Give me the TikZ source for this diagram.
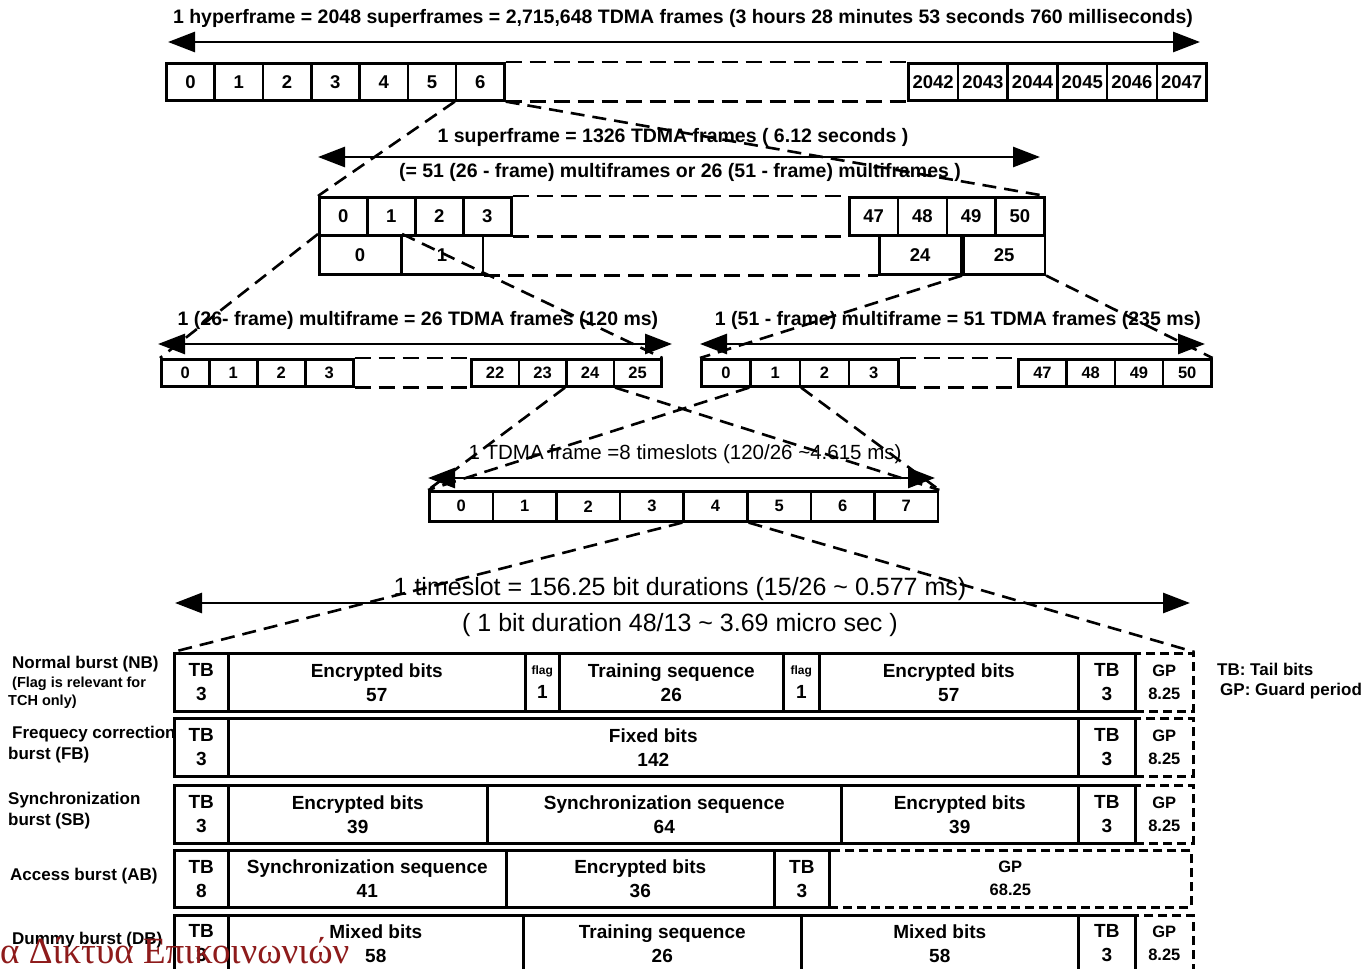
\documentclass[tikz,border=0pt]{standalone}
\usepackage{fontspec}
\setmainfont{Liberation Sans}
\newfontfamily\footgreek{Liberation Serif}
\usetikzlibrary{arrows.meta}
\definecolor{footred}{HTML}{8E1B1B}

\newcommand{\capfont}{\fontsize{19.5}{23}\selectfont\bfseries}
\newcommand{\framecapfont}{\fontsize{20.5}{25}\selectfont}
\newcommand{\slotcapfont}{\fontsize{25}{29}\selectfont}
\newcommand{\numfont}{\fontsize{18.5}{22}\selectfont\bfseries}
\newcommand{\smallnumfont}{\fontsize{16.5}{20}\selectfont\bfseries}
\newcommand{\bitfont}{\fontsize{19}{24}\selectfont\bfseries}
\newcommand{\gpfont}{\fontsize{16.5}{23}\selectfont\bfseries}
\newcommand{\flagfont}{\fontsize{12}{14}\selectfont\bfseries}
\newcommand{\lblfont}{\fontsize{17}{21}\selectfont\bfseries}
\newcommand{\notefont}{\fontsize{14.5}{17}\selectfont\bfseries}

% one cell of a burst: name, x left, x right, y top, y bottom, text
\newcommand{\fcell}[7][bitcell]{%
  \node[#1, minimum width={#4-#3}, minimum height={#6-#5}] (#2) at (#3,#5) {#7};}

\begin{document}
\begin{tikzpicture}[x=1pt,y=-1pt,
  slotbox/.style={draw, line width=2.6pt, anchor=north west, inner sep=0pt, align=center, font=\numfont},
  smallslot/.style={slotbox, font=\smallnumfont},
  bitcell/.style={slotbox, font=\bitfont},
  guardbox/.style={slotbox, font=\gpfont, dash pattern=on 9pt off 5pt},
  gapline/.style={line width=2.6pt, dash pattern=on 16pt off 8pt},
  zoomline/.style={line width=2.6pt, dash pattern=on 14pt off 8pt},
  spanarrow/.style={line width=2.8pt, {Triangle[length=27pt,width=20pt]}-{Triangle[length=27pt,width=20pt]}},
  caption/.style={font=\capfont, inner sep=0pt},
  slotcaption/.style={font=\slotcapfont, inner sep=0pt},
  burstlabel/.style={font=\lblfont, anchor=west, inner sep=0pt}
]
\useasboundingbox (0,0) rectangle (1369,969);

% hyperframe
\node[caption] (hfcap) at (683,18) {1 hyperframe = 2048 superframes = 2,715,648 TDMA frames (3 hours 28 minutes 53 seconds 760 milliseconds)};
\coordinate (hfL) at (168,42);
\coordinate (hfR) at (1200,42);
\draw[spanarrow] (hfL) -- (hfR);
\foreach \i in {0,...,6}
  \node[slotbox, minimum width=48.3, minimum height=37] (hf\i) at ({165+48.3*\i},62) {\i};
\foreach \i [evaluate=\i as \n using int(2042+\i)] in {0,...,5}
  \node[slotbox, minimum width=49.7, minimum height=37] (hf\n) at ({907+49.7*\i},62) {\n};
\draw[gapline] (hf6.north east) -- (hf2042.north west);
\draw[gapline] (hf6.south east) -- (hf2042.south west);

% superframe
\node[caption] (sfcap) at (673,137) {1 superframe = 1326 TDMA frames ( 6.12 seconds )};
\coordinate (sfL) at (318,157);
\coordinate (sfR) at (1040,157);
\draw[spanarrow] (sfL) -- (sfR);
\node[caption] (sfsub) at (680,172) {(= 51 (26 - frame) multiframes or 26 (51 - frame) multiframes )};
\foreach \i in {0,...,3}
  \node[slotbox, minimum width=48, minimum height=38] (sf\i) at ({318+48*\i},196) {\i};
\foreach \i [evaluate=\i as \n using int(47+\i)] in {0,...,3}
  \node[slotbox, minimum width=48.75, minimum height=38] (sf\n) at ({848+48.75*\i},196) {\n};
\draw[gapline] (sf3.north east) -- (sf47.north west);
\draw[gapline] (sf3.south east) -- (sf47.south west);
\foreach \n/\x in {0/318,1/400,24/878,25/962}
  \node[slotbox, minimum width=81.5, minimum height=39] (sfl\n) at (\x,234) {\n};
\draw[gapline] (sfl1.south east) -- (sfl24.south west);

% 26-frame multiframe
\node[caption] (mfacap) at (418,320) {1 (26- frame) multiframe = 26 TDMA frames (120 ms)};
\coordinate (mfaL) at (158,344);
\coordinate (mfaR) at (672,344);
\draw[spanarrow] (mfaL) -- (mfaR);
\foreach \i in {0,...,3}
  \node[smallslot, minimum width=48, minimum height=27] (mfa\i) at ({160+48*\i},358) {\i};
\foreach \i [evaluate=\i as \n using int(22+\i)] in {0,...,3}
  \node[smallslot, minimum width=47.5, minimum height=27] (mfa\n) at ({470+47.5*\i},358) {\n};
\draw[gapline] (mfa3.north east) -- (mfa22.north west);
\draw[gapline] (mfa3.south east) -- (mfa22.south west);

% 51-frame multiframe
\node[caption] (mfbcap) at (958,320) {1 (51 - frame) multiframe = 51 TDMA frames (235 ms)};
\coordinate (mfbL) at (700,344);
\coordinate (mfbR) at (1205,344);
\draw[spanarrow] (mfbL) -- (mfbR);
\foreach \i in {0,...,3}
  \node[smallslot, minimum width=49.25, minimum height=27] (mfb\i) at ({700+49.25*\i},358) {\i};
\foreach \i [evaluate=\i as \n using int(47+\i)] in {0,...,3}
  \node[smallslot, minimum width=48.25, minimum height=27] (mfb\n) at ({1017+48.25*\i},358) {\n};
\draw[gapline] (mfb3.north east) -- (mfb47.north west);
\draw[gapline] (mfb3.south east) -- (mfb47.south west);

% TDMA frame
\node[caption, font=\framecapfont] (tscap) at (685,454) {1 TDMA frame =8 timeslots (120/26 \textasciitilde4.615 ms)};
\coordinate (tsL) at (428,478);
\coordinate (tsR) at (935,478);
\draw[spanarrow] (tsL) -- (tsR);
\foreach \i in {0,...,7}
  \node[smallslot, minimum width=63.6, minimum height=30] (ts\i) at ({428+63.6*\i},490) {\i};

% timeslot
\node[slotcaption] (bitcap) at (680,589) {1 timeslot = 156.25 bit durations (15/26 \textasciitilde\ 0.577 ms)};
\coordinate (bitL) at (175,603);
\coordinate (bitR) at (1190,603);
\draw[spanarrow] (bitL) -- (bitR);
\node[slotcaption] (bitsub) at (680,625) {( 1 bit duration 48/13 \textasciitilde\ 3.69 micro sec )};

% normal burst
\fcell{nbtb1}{173}{227}{652}{710}{TB\\3}
\fcell{nbenc1}{227}{524}{652}{710}{Encrypted bits\\57}
\fcell{nbflag1}{524}{558}{652}{710}{{\flagfont flag}\\1}
\fcell{nbtrain}{558}{782}{652}{710}{Training sequence\\26}
\fcell{nbflag2}{782}{818}{652}{710}{{\flagfont flag}\\1}
\fcell{nbenc2}{818}{1077}{652}{710}{Encrypted bits\\57}
\fcell{nbtb2}{1077}{1134}{652}{710}{TB\\3}
\fcell[guardbox]{nbgp}{1134}{1192}{652}{710}{GP\\8.25}

% frequency correction burst
\fcell{fbtb1}{173}{227}{717}{775}{TB\\3}
\fcell{fbfix}{227}{1077}{717}{775}{Fixed bits\\142}
\fcell{fbtb2}{1077}{1134}{717}{775}{TB\\3}
\fcell[guardbox]{fbgp}{1134}{1192}{717}{775}{GP\\8.25}

% synchronization burst
\fcell{sbtb1}{173}{227}{784}{842}{TB\\3}
\fcell{sbenc1}{227}{486}{784}{842}{Encrypted bits\\39}
\fcell{sbsync}{486}{840}{784}{842}{Synchronization sequence\\64}
\fcell{sbenc2}{840}{1077}{784}{842}{Encrypted bits\\39}
\fcell{sbtb2}{1077}{1134}{784}{842}{TB\\3}
\fcell[guardbox]{sbgp}{1134}{1192}{784}{842}{GP\\8.25}

% access burst
\fcell{abtb1}{173}{227}{849}{906}{TB\\8}
\fcell{absync}{227}{505}{849}{906}{Synchronization sequence\\41}
\fcell{abenc}{505}{773}{849}{906}{Encrypted bits\\36}
\fcell{abtb2}{773}{828}{849}{906}{TB\\3}
\fcell[guardbox]{abgp}{828}{1190}{849}{906}{GP\\68.25}

% dummy burst
\fcell{dbtb1}{173}{227}{914}{970}{TB\\3}
\fcell{dbmix1}{227}{522}{914}{970}{Mixed bits\\58}
\fcell{dbtrain}{522}{800}{914}{970}{Training sequence\\26}
\fcell{dbmix2}{800}{1077}{914}{970}{Mixed bits\\58}
\fcell{dbtb2}{1077}{1134}{914}{970}{TB\\3}
\fcell[guardbox]{dbgp}{1134}{1192}{914}{970}{GP\\8.25}

% zoom lines
\draw[zoomline] (hf6.south west) -- (sf0.north west);
\draw[zoomline] (hf6.south east) -- (sf50.north east);
\draw[zoomline] (sfl0.north west) -- (mfa0.north west);
\draw[zoomline] (sfl0.north east) -- (mfa25.north east);
\draw[zoomline] (sfl25.south west) -- (mfb0.north west);
\draw[zoomline] (sfl25.south east) -- (mfb50.north east);
\draw[zoomline] (mfa24.south west) -- (ts0.north west);
\draw[zoomline] (mfa24.south east) -- (ts7.north east);
\draw[zoomline] (mfb1.south west) -- (ts0.north west);
\draw[zoomline] (mfb1.south east) -- (ts7.north east);
\draw[zoomline] (ts4.south west) -- (nbtb1.north west);
\draw[zoomline] (ts4.south east) -- (nbgp.north east);

% burst names and legend
\node[burstlabel] (nbname) at (12,664) {Normal burst (NB)};
\node[burstlabel, font=\notefont] (nbnote1) at (12,684) {(Flag is relevant for};
\node[burstlabel, font=\notefont] (nbnote2) at (8,702) {TCH only)};
\node[burstlabel] (fbname1) at (12,734) {Frequecy correction};
\node[burstlabel] (fbname2) at (8,755) {burst (FB)};
\node[burstlabel] (sbname1) at (8,800) {Synchronization};
\node[burstlabel] (sbname2) at (8,821) {burst (SB)};
\node[burstlabel] (abname) at (10,876) {Access burst (AB)};
\node[burstlabel] (dbname) at (12,940) {Dummy burst (DB)};
\node[burstlabel] (tbkey) at (1217,669) {TB: Tail bits};
\node[burstlabel] (gpkey) at (1220,691) {GP: Guard period};

% footer
\node[anchor=base west, inner sep=0pt, text=footred, font=\footgreek\fontsize{37}{42}\selectfont] (footer) at (0,963) {α Δίκτυα Επικοινωνιών};
\end{tikzpicture}
\end{document}
